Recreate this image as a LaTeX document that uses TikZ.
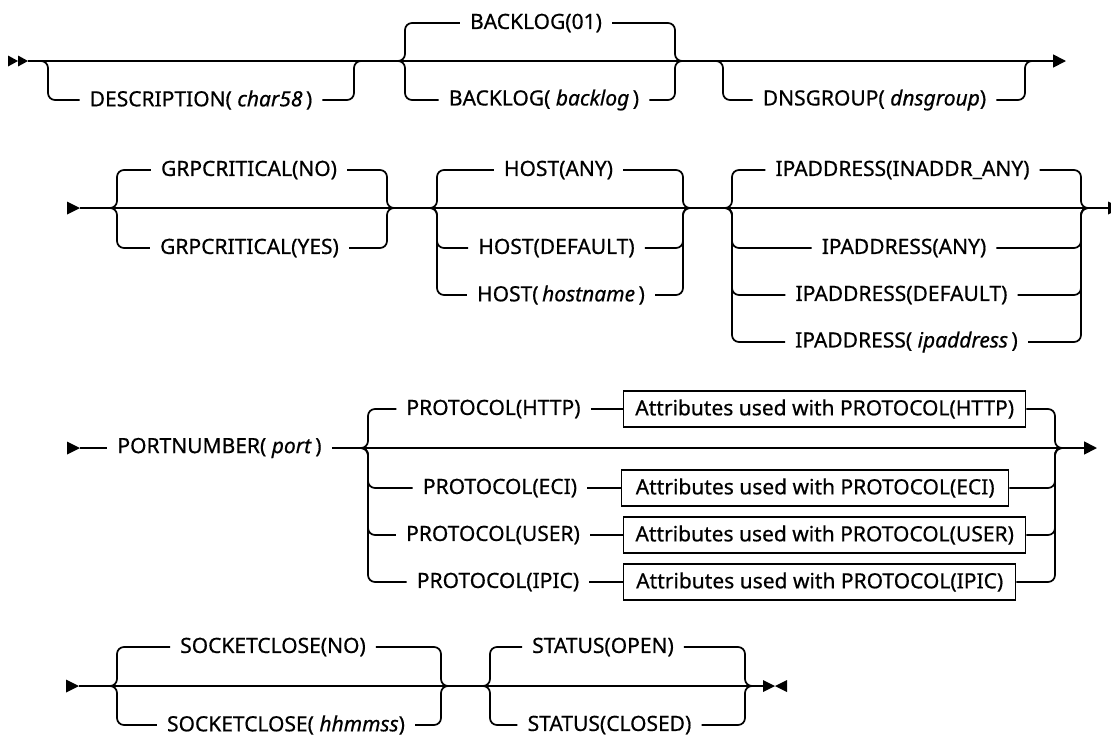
\documentclass[tikz,border=0pt]{standalone}
\usepackage{fontspec}
\setmainfont{Noto Sans}[FakeBold=0.6,AutoFakeBold=0.6]
\usetikzlibrary{arrows.meta}
\tikzset{
  rail/.style={line width=1.7pt, rounded corners=7pt},
  lbl/.style={font=\fontsize{21}{25}\selectfont\bfseries, inner xsep=10pt, inner ysep=2pt},
  attrbox/.style={draw, line width=1.4pt, font=\fontsize{21}{25}\selectfont\bfseries, minimum height=36pt, inner xsep=8pt, inner ysep=2pt, anchor=west},
  endarrow/.style={-{Triangle[length=13pt,width=13pt]}},
  marker/.style={fill=black, draw=none},
}
\newcommand\railbranch[5]{%
  \draw[rail] (#1) -- (#2) |- (#3.west);
  \draw[rail] (#3.east) -| (#4) -- (#5);}
\newcommand\railboxbranch[6]{%
  \draw[rail] (#1) -- (#2) |- (#3.west);
  \draw[rail] (#3.east) -- (#4.west);
  \draw[rail] (#4.east) -| (#5) -- (#6);}
\begin{document}
\begin{tikzpicture}[x=1pt,y=-1pt]
\useasboundingbox (0,0) rectangle (1111,737);

% ---------------- Row 1 ----------------
\fill[marker] (8,55.5) -- (18,61) -- (8,66.5) -- cycle;
\fill[marker] (18,55.5) -- (28,61) -- (18,66.5) -- cycle;
\coordinate (s1) at (28,61);
\coordinate (e1) at (1066,61);
\draw[rail, endarrow] (s1) -- (e1);

\coordinate (dcL) at (40,61);  \coordinate (dvL) at (48,61);
\coordinate (dvR) at (354,61); \coordinate (dcR) at (362,61);
\node[lbl] (desc) at (201,100) {DESCRIPTION( \textit{char58}\/\,)};
\railbranch{dcL}{dvL}{desc}{dvR}{dcR}

\coordinate (bcL) at (398,61); \coordinate (bvL) at (405,61);
\coordinate (bvR) at (675,61); \coordinate (bcR) at (682,61);
\node[lbl] (b01) at (536,23) {BACKLOG(01)};
\node[lbl] (bbl) at (544,100) {BACKLOG( \textit{backlog}\/\,)};
\railbranch{bcL}{bvL}{b01}{bvR}{bcR}
\railbranch{bcL}{bvL}{bbl}{bvR}{bcR}

\coordinate (ncL) at (715,61);  \coordinate (nvL) at (723,61);
\coordinate (nvR) at (1025,61); \coordinate (ncR) at (1033,61);
\node[lbl] (dns) at (874.5,100) {DNSGROUP( \textit{dnsgroup}\/)};
\railbranch{ncL}{nvL}{dns}{nvR}{ncR}

% ---------------- Row 2 ----------------
\fill[marker] (67,201.5) -- (80,208) -- (67,214.5) -- cycle;
\coordinate (s2) at (80,208);
\coordinate (e2) at (1108,208);
\draw[rail] (s2) -- (e2);
\fill[marker] (1108,201.5) -- (1121,208) -- (1108,214.5) -- cycle;

\coordinate (gcL) at (108,208); \coordinate (gvL) at (117,208);
\coordinate (gvR) at (387,208); \coordinate (gcR) at (396,208);
\node[lbl] (gno) at (249,170) {GRPCRITICAL(NO)};
\node[lbl] (gyes) at (249.5,248) {GRPCRITICAL(YES)};
\railbranch{gcL}{gvL}{gno}{gvR}{gcR}
\railbranch{gcL}{gvL}{gyes}{gvR}{gcR}

\coordinate (hcL) at (428,208); \coordinate (hvL) at (437,208);
\coordinate (hvR) at (683,208); \coordinate (hcR) at (692,208);
\node[lbl] (hany) at (558.5,170) {HOST(ANY)};
\node[lbl] (hdef) at (556.5,248) {HOST(DEFAULT)};
\node[lbl] (hname) at (561,295) {HOST(\,\textit{hostname}\/\,)};
\railbranch{hcL}{hvL}{hany}{hvR}{hcR}
\railbranch{hcL}{hvL}{hdef}{hvR}{hcR}
\railbranch{hcL}{hvL}{hname}{hvR}{hcR}

\coordinate (icL) at (723,208);  \coordinate (ivL) at (732,208);
\coordinate (ivR) at (1081,208); \coordinate (icR) at (1090,208);
\node[lbl] (iina) at (902.5,170) {IPADDRESS(INADDR\_ANY)};
\node[lbl] (iany) at (904,248) {IPADDRESS(ANY)};
\node[lbl] (idef) at (901.5,295) {IPADDRESS(DEFAULT)};
\node[lbl] (iadr) at (906.5,342) {IPADDRESS( \textit{ipaddress}\/\,)};
\railbranch{icL}{ivL}{iina}{ivR}{icR}
\railbranch{icL}{ivL}{iany}{ivR}{icR}
\railbranch{icL}{ivL}{idef}{ivR}{icR}
\railbranch{icL}{ivL}{iadr}{ivR}{icR}

% ---------------- Row 3 ----------------
\fill[marker] (67,441.5) -- (80,448) -- (67,454.5) -- cycle;
\coordinate (s3) at (80,448);
\node[lbl] (port) at (219.5,448) {PORTNUMBER( \textit{port}\/\,)};
\coordinate (pcL) at (358,448);  \coordinate (pvL) at (368,448);
\coordinate (pvR) at (1055,448); \coordinate (pcR) at (1064,448);
\coordinate (e3) at (1097,448);
\draw[rail] (s3) -- (port.west);
\draw[rail] (port.east) -- (pcL);
\draw[rail, endarrow] (pcL) -- (e3);

\node[lbl] (phttp) at (493.5,409) {PROTOCOL(HTTP)};
\node[lbl] (peci) at (500,488) {PROTOCOL(ECI)};
\node[lbl] (puser) at (493,535) {PROTOCOL(USER)};
\node[lbl] (pipic) at (498,582) {PROTOCOL(IPIC)};
\node[attrbox, minimum width=402pt] (ahttp) at (623,409) {Attributes used with PROTOCOL(HTTP)};
\node[attrbox, minimum width=387pt] (aeci) at (621,488) {Attributes used with PROTOCOL(ECI)};
\node[attrbox, minimum width=402pt] (auser) at (623,535) {Attributes used with PROTOCOL(USER)};
\node[attrbox, minimum width=392pt] (aipic) at (623,582) {Attributes used with PROTOCOL(IPIC)};
\railboxbranch{pcL}{pvL}{phttp}{ahttp}{pvR}{pcR}
\railboxbranch{pcL}{pvL}{peci}{aeci}{pvR}{pcR}
\railboxbranch{pcL}{pvL}{puser}{auser}{pvR}{pcR}
\railboxbranch{pcL}{pvL}{pipic}{aipic}{pvR}{pcR}

% ---------------- Row 4 ----------------
\fill[marker] (66,679.5) -- (79,686) -- (66,692.5) -- cycle;
\coordinate (s4) at (79,686);
\coordinate (e4) at (763,686);
\draw[rail] (s4) -- (e4);
\fill[marker] (763,680) -- (775,686) -- (763,692) -- cycle;
\fill[marker] (787,680) -- (775,686) -- (787,692) -- cycle;

\coordinate (scL) at (109,686); \coordinate (svL) at (117,686);
\coordinate (svR) at (441,686); \coordinate (scR) at (449,686);
\node[lbl] (sno) at (273,647) {SOCKETCLOSE(NO)};
\node[lbl] (shh) at (286,725) {SOCKETCLOSE( \textit{hhmmss}\/)};
\railbranch{scL}{svL}{sno}{svR}{scR}
\railbranch{scL}{svL}{shh}{svR}{scR}

\coordinate (tcL) at (483,686); \coordinate (tvL) at (490,686);
\coordinate (tvR) at (745,686); \coordinate (tcR) at (752,686);
\node[lbl] (topen) at (603,647) {STATUS(OPEN)};
\node[lbl] (tclosed) at (609.5,725) {STATUS(CLOSED)};
\railbranch{tcL}{tvL}{topen}{tvR}{tcR}
\railbranch{tcL}{tvL}{tclosed}{tvR}{tcR}
\end{tikzpicture}
\end{document}
